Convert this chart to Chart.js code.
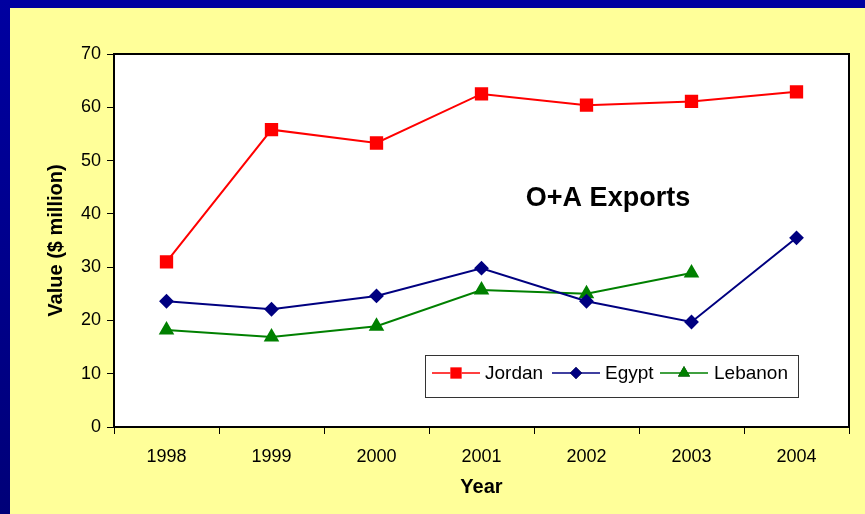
<!DOCTYPE html>
<html>
<head>
<meta charset="UTF-8">
<title>O+A Exports</title>
<script src="https://cdn.jsdelivr.net/npm/chart.js"></script>
<style>
  html, body { margin: 0; padding: 0; }
  body {
    width: 865px; height: 514px; overflow: hidden;
    background: linear-gradient(180deg, #0000a0, #000078);
    position: relative;
  }
  .panel {
    position: absolute; left: 10px; top: 8px;
    width: 855px; height: 506px;
    background: #ffff99;
  }
</style>
</head>
<body>
<div class="panel">
  <canvas id="chart" width="855" height="506"></canvas>
</div>
<script>
  const years = ['1998', '1999', '2000', '2001', '2002', '2003', '2004'];
  const jordan = [31.0, 55.8, 53.3, 62.5, 60.4, 61.1, 62.9];
  const egypt = [23.6, 22.1, 24.6, 29.8, 23.6, 19.7, 35.5];
  const lebanon = [18.2, 16.9, 18.9, 25.7, 25.0, 28.9, null];
  const yTicks = [0, 10, 20, 30, 40, 50, 60, 70];

  const font = 'Liberation Sans, Arial, sans-serif';

  // white plot background
  const plotBg = {
    id: 'plotBg',
    beforeDraw(chart) {
      const a = chart.chartArea;
      chart.ctx.save();
      chart.ctx.fillStyle = '#fff';
      chart.ctx.fillRect(a.left, a.top, a.right - a.left, a.bottom - a.top);
      chart.ctx.restore();
    }
  };

  // border round the plot, the inner title and the boxed legend
  const extras = {
    id: 'extras',
    afterDraw(chart) {
      const ctx = chart.ctx;
      const a = chart.chartArea;
      ctx.save();
      ctx.strokeStyle = '#000';
      ctx.lineWidth = 2;
      ctx.strokeRect(a.left, a.top, a.right - a.left, a.bottom - a.top);

      ctx.fillStyle = '#000';
      ctx.font = 'bold 27px ' + font;
      ctx.textAlign = 'center';
      ctx.textBaseline = 'middle';
      ctx.fillText('O+A Exports', 598, 191);

      // legend
      ctx.lineWidth = 1;
      ctx.strokeStyle = '#333';
      ctx.fillStyle = '#fff';
      ctx.fillRect(415.5, 347.5, 373, 42);
      ctx.strokeRect(415.5, 347.5, 373, 42);
      const items = [[422, 475], [542, 595], [650, 704]];
      ctx.font = '19px ' + font;
      ctx.textAlign = 'left';
      chart.data.datasets.forEach((ds, i) => {
        const [x0, tx] = items[i];
        const y = 365;
        ctx.strokeStyle = ds.borderColor;
        ctx.lineWidth = 1.5;
        ctx.beginPath();
        ctx.moveTo(x0, y);
        ctx.lineTo(x0 + 48, y);
        ctx.stroke();
        Chart.helpers.drawPoint(ctx, {
          pointStyle: ds.pointStyle, radius: ds.pointRadius,
          rotation: 0, borderWidth: 0
        }, x0 + 24, y);
        ctx.fillStyle = ds.pointBackgroundColor;
        ctx.fill();
        ctx.fillStyle = '#000';
        ctx.fillText(ds.label, tx, y + 1);
      });
      ctx.restore();
    }
  };

  new Chart(document.getElementById('chart'), {
    type: 'line',
    data: {
      labels: years,
      datasets: [
        { label: 'Jordan', data: jordan, borderColor: '#ff0000', pointBackgroundColor: '#ff0000',
          pointBorderColor: '#ff0000', pointStyle: 'rect', pointRadius: 8, borderWidth: 2 },
        { label: 'Egypt', data: egypt, borderColor: '#000080', pointBackgroundColor: '#000080',
          pointBorderColor: '#000080', pointStyle: 'rectRot', pointRadius: 6, borderWidth: 2 },
        { label: 'Lebanon', data: lebanon, borderColor: '#008000', pointBackgroundColor: '#008000',
          pointBorderColor: '#008000', pointStyle: 'triangle', pointRadius: 7, borderWidth: 2 }
      ]
    },
    options: {
      responsive: false,
      animation: false,
      spanGaps: false,
      layout: { padding: { top: 46, right: 16, left: 0, bottom: 0 } },
      plugins: {
        legend: { display: false },
        tooltip: { enabled: false }
      },
      scales: {
        x: {
          offset: true,
          grid: { offset: true, drawOnChartArea: false, drawTicks: true, tickLength: 7, color: '#000' },
          border: { color: '#000', width: 2 },
          ticks: { color: '#000', font: { family: font, size: 18 }, padding: 12, maxRotation: 0 },
          title: { display: true, text: 'Year', color: '#000', font: { family: font, size: 20, weight: 'bold' }, padding: { top: 4, bottom: 15 } },
          afterFit(scale) { scale.height = 87; }
        },
        y: {
          min: 0, max: 70,
          afterBuildTicks(scale) { scale.ticks = yTicks.map(v => ({ value: v })); },
          grid: { drawOnChartArea: false, drawTicks: true, tickLength: 7, color: '#000' },
          border: { color: '#000', width: 2 },
          ticks: { color: '#000', font: { family: font, size: 18 }, padding: 6 },
          title: { display: true, text: 'Value ($ million)', color: '#000', font: { family: font, size: 20, weight: 'bold' }, padding: { top: 34, bottom: 0 } },
          afterFit(scale) { scale.width = 104; }
        }
      }
    },
    plugins: [plotBg, extras]
  });
</script>
</body>
</html>
